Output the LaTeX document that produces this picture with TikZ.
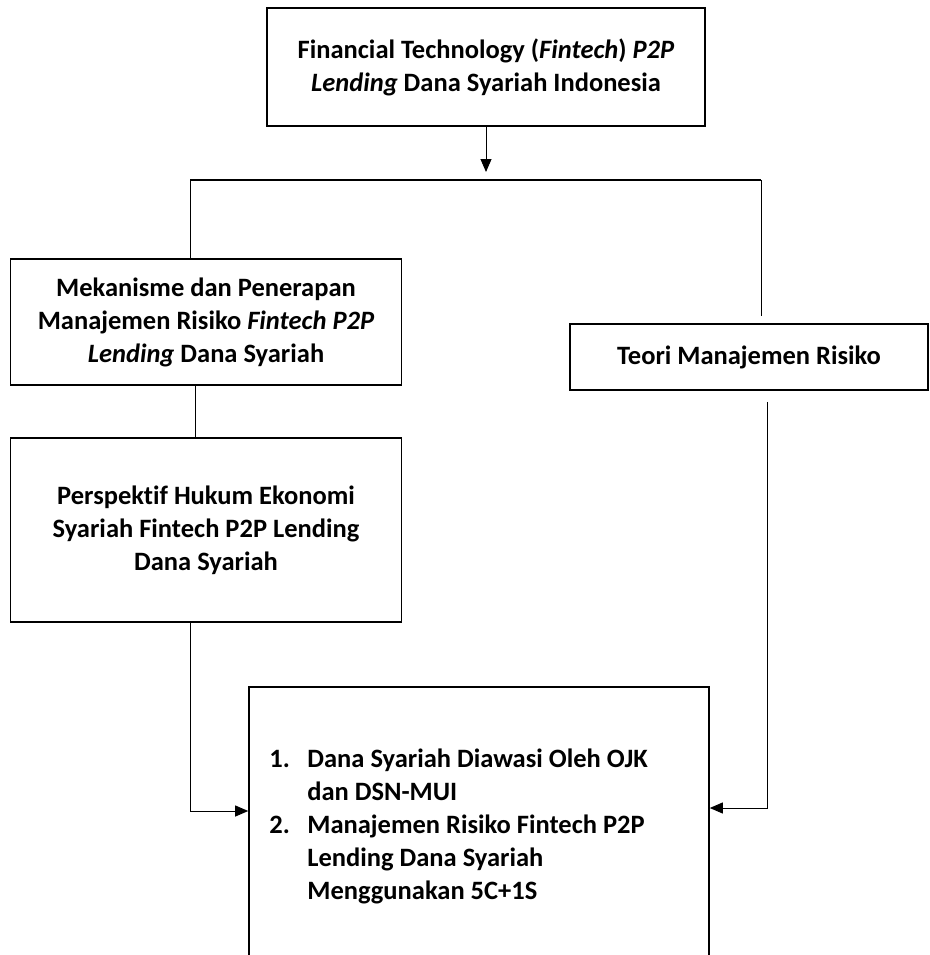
\documentclass[tikz,border=0pt]{standalone}
\usepackage{fontspec}
\setmainfont{Carlito}[Ligatures=NoCommon]
\usetikzlibrary{arrows.meta}

\begin{document}
\begin{tikzpicture}[x=1pt, y=-1pt, font=\fontsize{26.5}{33}\selectfont\bfseries]
    % Styles for the boxes and connectors
    \tikzstyle{kotak} = [draw, line width=1.6pt, align=center, inner sep=0pt]
    \tikzstyle{garis} = [line width=0.9pt]
    \tikzstyle{panah} = [garis, -{Triangle[length=13pt, width=11pt]}]

    \useasboundingbox (0,0) rectangle (929,955);
    \clip (0,0) rectangle (929,955);

    % Main topic at the top
    \node[kotak, minimum width=438pt, minimum height=118pt] (fintech) at (486,67)
        {Financial Technology (\textit{Fintech}) \textit{P2P}\\ \textit{Lending} Dana Syariah Indonesia};

    % Left branch
    \node[kotak, minimum width=391pt, minimum height=126pt] (mekanisme) at (206,322)
        {Mekanisme dan Penerapan\\ Manajemen Risiko \textit{Fintech P2P}\\ \textit{Lending} Dana Syariah};
    \node[kotak, minimum width=391pt, minimum height=184pt] (perspektif) at (206,530)
        {Perspektif Hukum Ekonomi\\ Syariah Fintech P2P Lending\\ Dana Syariah};

    % Right branch
    \node[kotak, minimum width=358pt, minimum height=66pt] (teori) at (749,357)
        {Teori Manajemen Risiko};

    % Result box (runs past the lower edge)
    \node[kotak, minimum width=460pt, minimum height=313pt] (hasil) at (479,843.5) {};
    \node[anchor=north west, align=left, inner sep=0pt] (daftar) at ([xshift=21pt, yshift=-62pt]hasil.north west)
        {\makebox[38pt][l]{1.}Dana Syariah Diawasi Oleh OJK\\
         \hspace*{38pt}dan DSN-MUI\\
         \makebox[38pt][l]{2.}Manajemen Risiko Fintech P2P\\
         \hspace*{38pt}Lending Dana Syariah\\
         \hspace*{38pt}Menggunakan 5C+1S};

    % Connectors
    \coordinate (cabang) at (486,180);
    \coordinate (kiri) at (190,180);
    \coordinate (kanan) at (761,180);
    \draw[panah] (fintech.south) -- ([yshift=8pt]cabang);
    \draw[line width=1.6pt] (kiri) -- (kanan);
    \draw[garis] (kiri) -- (mekanisme.north -| kiri);
    \draw[garis] (kanan) -- ([yshift=7pt]teori.north -| kanan);
    \draw[garis] ([xshift=-11pt]mekanisme.south) -- ([xshift=-11pt]mekanisme.south |- perspektif.north);
    \draw[panah] ([xshift=-16pt]perspektif.south) |- ([yshift=32.5pt]hasil.west);
    \draw[panah] ([xshift=18pt, yshift=-11pt]teori.south) |- ([yshift=35.5pt]hasil.east);
\end{tikzpicture}
\end{document}
